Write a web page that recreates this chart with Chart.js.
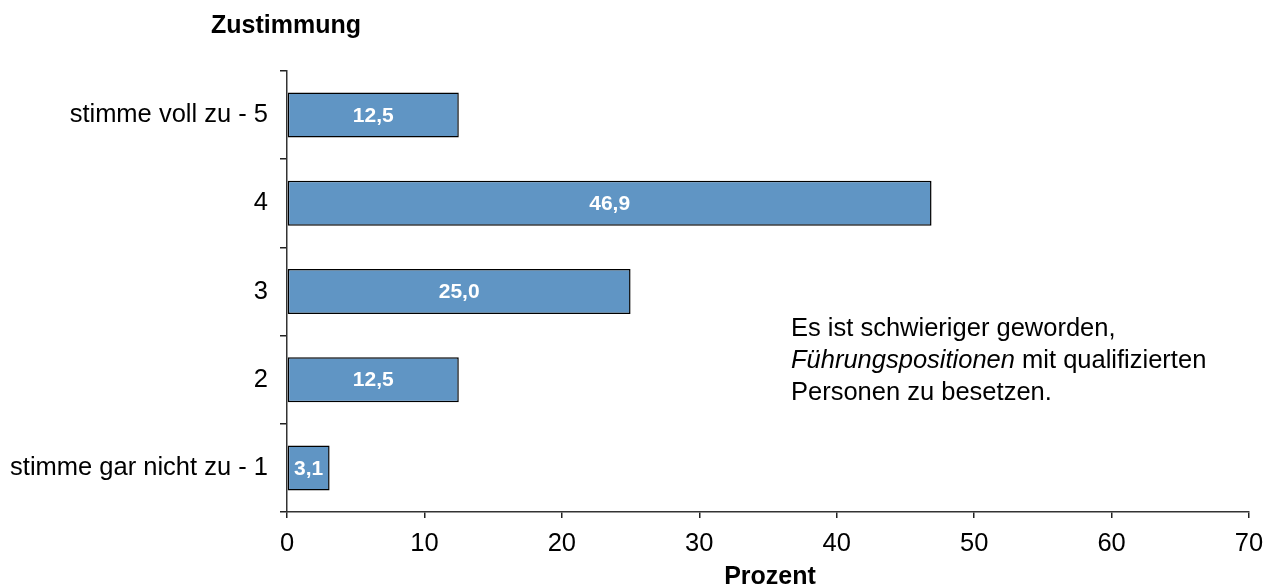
<!DOCTYPE html>
<html>
<head>
<meta charset="utf-8">
<script src="https://cdn.jsdelivr.net/npm/chart.js@4/dist/chart.umd.min.js"></script>
<style>
  html, body { margin: 0; padding: 0; background: #ffffff; }
  #wrap { width: 1279px; height: 588px; position: relative; }
</style>
</head>
<body>
<div id="wrap"><canvas id="c" width="1279" height="588"></canvas></div>
<script>
const categories = ["stimme voll zu - 5", "4", "3", "2", "stimme gar nicht zu - 1"];
const percentValues = [12.5, 46.9, 25.0, 12.5, 3.1];
const xTickMin = 0;
const xTickMax = 70;
const xTickStep = 10;
const yAxisTitle = "Zustimmung";
const xAxisTitle = "Prozent";
const noteLine1 = "Es ist schwieriger geworden,";
const noteLine2Italic = "Führungspositionen";
const noteLine2Rest = " mit qualifizierten";
const noteLine3 = "Personen zu besetzen.";

const FONT = "'Liberation Sans', Arial, Helvetica, sans-serif";

const extrasPlugin = {
  id: 'extras',
  afterDatasetsDraw(chart) {
    const ctx = chart.ctx;
    const meta = chart.getDatasetMeta(0);
    ctx.save();
    ctx.fillStyle = '#ffffff';
    ctx.font = "bold 21px " + FONT;
    ctx.textAlign = 'center';
    ctx.textBaseline = 'middle';
    meta.data.forEach((bar, i) => {
      const v = chart.data.datasets[0].data[i];
      const cx = (bar.base + bar.x) / 2;
      ctx.fillText(v.toFixed(1).replace('.', ','), cx, bar.y + 1);
    });
    ctx.restore();
  },
  afterDraw(chart) {
    const ctx = chart.ctx;
    ctx.save();
    ctx.fillStyle = '#000000';
    ctx.textBaseline = 'alphabetic';
    ctx.font = "bold 25px " + FONT;
    ctx.textAlign = 'left';
    ctx.fillText(yAxisTitle, 211, 33);
    const xs = chart.scales.x;
    ctx.textAlign = 'center';
    ctx.fillText(xAxisTitle, (xs.left + xs.right) / 2 + 2, 584);
    ctx.textAlign = 'left';
    const nx = 791;
    ctx.font = "25.5px " + FONT;
    ctx.fillText(noteLine1, nx, 336);
    ctx.font = "italic 25.5px " + FONT;
    ctx.fillText(noteLine2Italic, nx, 368);
    const w = ctx.measureText(noteLine2Italic).width;
    ctx.font = "25.5px " + FONT;
    ctx.fillText(noteLine2Rest, nx + w, 368);
    ctx.fillText(noteLine3, nx, 400);
    ctx.restore();
  }
};

new Chart(document.getElementById('c'), {
  type: 'bar',
  data: {
    labels: categories,
    datasets: [{
      data: percentValues,
      backgroundColor: '#6095c4',
      borderColor: '#000000',
      borderWidth: 1.5,
      borderSkipped: false,
      barPercentage: 0.51,
      categoryPercentage: 1.0
    }]
  },
  options: {
    indexAxis: 'y',
    responsive: false,
    animation: false,
    devicePixelRatio: 1,
    layout: { padding: { top: 71, right: 30, left: 0, bottom: 0 } },
    plugins: {
      legend: { display: false },
      tooltip: { enabled: false },
      title: { display: false }
    },
    scales: {
      x: {
        type: 'linear',
        min: xTickMin,
        max: xTickMax,
        ticks: {
          stepSize: xTickStep,
          color: '#000000',
          font: { family: FONT, size: 25.5 },
          padding: 11
        },
        grid: {
          display: true,
          drawOnChartArea: false,
          drawTicks: true,
          tickLength: 6,
          color: '#222222',
          lineWidth: 1.5
        },
        border: { display: true, color: '#333333', width: 1.5 },
        afterFit(scale) { scale.height = 76; }
      },
      y: {
        type: 'category',
        ticks: {
          color: '#000000',
          font: { family: FONT, size: 25.5 },
          padding: 12
        },
        grid: {
          display: true,
          offset: true,
          drawOnChartArea: false,
          drawTicks: true,
          tickLength: 7,
          color: '#222222',
          lineWidth: 1.5
        },
        border: { display: true, color: '#333333', width: 1.5 },
        afterFit(scale) { scale.width = 287; }
      }
    }
  },
  plugins: [extrasPlugin]
});
</script>
</body>
</html>
